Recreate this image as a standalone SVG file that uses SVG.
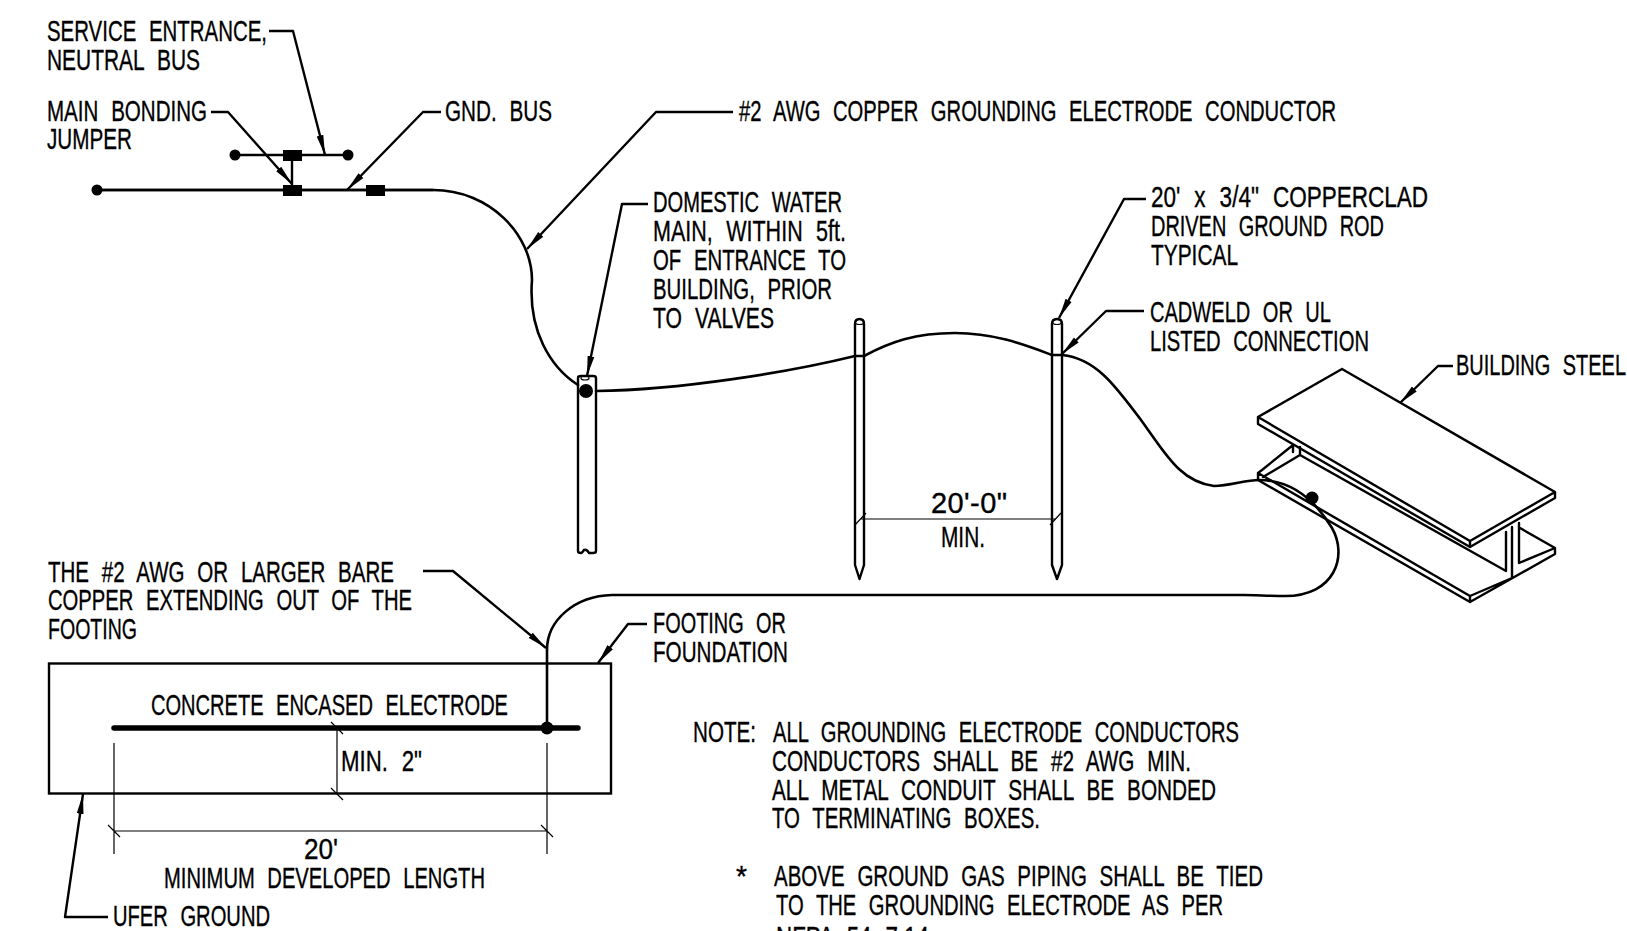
<svg xmlns="http://www.w3.org/2000/svg" width="1627" height="931" viewBox="0 0 1627 931">
<style>
text{font-family:"Liberation Sans Narrow","Liberation Sans",Arial,sans-serif;font-size:29px;fill:#000;stroke:#000;stroke-width:.35;word-spacing:10px}
.l{fill:none;stroke:#000;stroke-width:2.4;stroke-linecap:round;stroke-linejoin:round}
.w{fill:none;stroke:#000;stroke-width:2.6;stroke-linecap:round;stroke-linejoin:round}
.d{fill:none;stroke:#000;stroke-width:1.2;stroke-linecap:butt}
.s{fill:none;stroke:#000;stroke-width:2.4;stroke-linejoin:round;stroke-linecap:round}
.ld{fill:none;stroke:#000;stroke-width:2.4;stroke-linejoin:round;marker-end:url(#a)}
</style>
<defs>
<marker id="a" markerUnits="userSpaceOnUse" markerWidth="22" markerHeight="9" refX="20" refY="4" orient="auto"><path d="M0,0.6 L20,4 L0,7.4Z" fill="#000"/></marker>
</defs>
<g id="connectors">
<path class="ld" d="M269 31H293L325 155"/>
<path class="ld" d="M211 112H228L292 184"/>
<path class="ld" d="M441 112H423L347 190"/>
<path class="ld" d="M733 112H656L527 249"/>
<path class="ld" d="M648 204H622L587 376"/>
<path class="ld" d="M1146 199H1124L1059 318"/>
<path class="ld" d="M1144 311H1106L1062 354"/>
<path class="ld" d="M1453 366H1438L1400 403"/>
<path class="ld" d="M423 571H453L546 648"/>
<path class="ld" d="M647 624H628L598 663"/>
<path class="ld" d="M108 917H65L83 794"/>
<path class="w" d="M96 190H433C490 190 532 235 532 280C528 330 550 367 578 385"/>
<path class="w" d="M596 391C680 390 790 372 855 356"/>
<path class="w" d="M864 356C890 342 915 333 955 333C995 333 1025 345 1052 355"/>
<path class="w" d="M1062 355C1095 358 1115 385 1141 420C1165 453 1180 482 1214 486C1230 486 1245 480 1259 480"/>
<path class="w" d="M1259 480C1295 480 1318 505 1332 528C1348 556 1335 596 1285 596C1270 596 1255 595 1243 595H612C575 596 547 620 547 650V728"/>
</g>
<g id="main-bus">
<path class="l" d="M235 155H348M96 190H433M292 155V190"/>
<circle cx="235" cy="155" r="5.5"/><circle cx="348" cy="155" r="5.5"/><circle cx="97" cy="190" r="5.5"/>
<rect x="283" y="150" width="19" height="11"/><rect x="283" y="185" width="19" height="11"/><rect x="366" y="185" width="19" height="11"/>
</g>
<g id="water-main">
<path class="s" d="M578 378Q578 376 581 376H593Q596 376 596 378V551Q596 553 593 553H589Q587 549 584 550Q582 553 581 553Q578 553 578 551Z"/>
<ellipse class="d" cx="585" cy="378" rx="4" ry="2"/>
<circle cx="586" cy="391" r="7"/>
</g>
<g id="rod-1">
<path class="s" d="M855 324Q855 319 859.5 319Q864 319 864 324V565L859.5 579L855 565Z"/>
<ellipse class="d" cx="859.5" cy="322" rx="4.5" ry="2.5"/>
<path class="l" d="M855 356H864"/>
</g>
<g id="rod-2">
<path class="s" d="M1052 324Q1052 319 1057 319Q1062 319 1062 324V565L1057 579L1052 565Z"/>
<ellipse class="d" cx="1057" cy="322" rx="4.5" ry="2.5"/>
<path class="l" d="M1052 355H1062"/>
</g>
<g id="building-steel">
<path class="s" d="M1342 369L1555 492V498L1470 547V541L1258 417V424L1470 547M1342 369L1258 417M1470 541L1555 492"/>
<path class="s" d="M1258 473V480L1470 602V596L1258 473L1262 470L1293 445V452M1300 447V455L1506 571V532M1300 455L1263 477M1512 527V578L1470 596M1470 602L1555 554V548L1520 528M1519 523V563L1555 548"/>
<circle cx="1312" cy="498" r="6.5"/>
</g>
<g id="footing">
<rect x="49" y="663.5" width="562" height="130" fill="none" stroke="#000" stroke-width="2.4"/>
<path d="M114 728H578" stroke="#000" stroke-width="5.5" stroke-linecap="round"/>
<circle cx="547" cy="728" r="6.5"/>
<path class="d" d="M114 743V854M547 743V854M108 825L120 837M541 825L553 837M114 831H547M337 728V794M331 722L343 734M331 788L343 800"/>
<path class="d" d="M860 519H1055M855 525L866 513M1050 525L1061 513"/>
</g>
<g id="labels">
<text x="47" y="41" textLength="220" lengthAdjust="spacingAndGlyphs">SERVICE ENTRANCE,</text>
<text x="47" y="70" textLength="153" lengthAdjust="spacingAndGlyphs">NEUTRAL BUS</text>
<text x="47" y="121" textLength="160" lengthAdjust="spacingAndGlyphs">MAIN BONDING</text>
<text x="47" y="149" textLength="85" lengthAdjust="spacingAndGlyphs">JUMPER</text>
<text x="445" y="121" textLength="107" lengthAdjust="spacingAndGlyphs">GND. BUS</text>
<text x="739" y="121" textLength="597" lengthAdjust="spacingAndGlyphs">#2 AWG COPPER GROUNDING ELECTRODE CONDUCTOR</text>
<text x="653" y="212" textLength="189" lengthAdjust="spacingAndGlyphs">DOMESTIC WATER</text>
<text x="653" y="241" textLength="193" lengthAdjust="spacingAndGlyphs">MAIN, WITHIN 5ft.</text>
<text x="653" y="270" textLength="193" lengthAdjust="spacingAndGlyphs">OF ENTRANCE TO</text>
<text x="653" y="299" textLength="179" lengthAdjust="spacingAndGlyphs">BUILDING, PRIOR</text>
<text x="653" y="328" textLength="121" lengthAdjust="spacingAndGlyphs">TO VALVES</text>
<text x="1151" y="207" textLength="277" lengthAdjust="spacingAndGlyphs">20' x 3/4" COPPERCLAD</text>
<text x="1151" y="236" textLength="233" lengthAdjust="spacingAndGlyphs">DRIVEN GROUND ROD</text>
<text x="1151" y="265" textLength="87" lengthAdjust="spacingAndGlyphs">TYPICAL</text>
<text x="1150" y="322" textLength="181" lengthAdjust="spacingAndGlyphs">CADWELD OR UL</text>
<text x="1150" y="351" textLength="219" lengthAdjust="spacingAndGlyphs">LISTED CONNECTION</text>
<text x="1456" y="375" textLength="170" lengthAdjust="spacingAndGlyphs">BUILDING STEEL</text>
<text x="48" y="582" textLength="346" lengthAdjust="spacingAndGlyphs">THE #2 AWG OR LARGER BARE</text>
<text x="48" y="610" textLength="364" lengthAdjust="spacingAndGlyphs">COPPER EXTENDING OUT OF THE</text>
<text x="48" y="639" textLength="89" lengthAdjust="spacingAndGlyphs">FOOTING</text>
<text x="653" y="633" textLength="133" lengthAdjust="spacingAndGlyphs">FOOTING OR</text>
<text x="653" y="662" textLength="135" lengthAdjust="spacingAndGlyphs">FOUNDATION</text>
<text x="151" y="715" textLength="357" lengthAdjust="spacingAndGlyphs">CONCRETE ENCASED ELECTRODE</text>
<text x="341" y="771" textLength="81" lengthAdjust="spacingAndGlyphs">MIN. 2"</text>
<text x="304" y="859" textLength="34" lengthAdjust="spacingAndGlyphs">20'</text>
<text x="164" y="888" textLength="321" lengthAdjust="spacingAndGlyphs">MINIMUM DEVELOPED LENGTH</text>
<text x="113" y="926" textLength="157" lengthAdjust="spacingAndGlyphs">UFER GROUND</text>
<text x="931" y="513" textLength="76" lengthAdjust="spacing">20'-0"</text>
<text x="941" y="547" textLength="44" lengthAdjust="spacingAndGlyphs">MIN.</text>
<text x="693" y="742" textLength="63" lengthAdjust="spacingAndGlyphs">NOTE:</text>
<text x="773" y="742" textLength="466" lengthAdjust="spacingAndGlyphs">ALL GROUNDING ELECTRODE CONDUCTORS</text>
<text x="772" y="771" textLength="419" lengthAdjust="spacingAndGlyphs">CONDUCTORS SHALL BE #2 AWG MIN.</text>
<text x="772" y="800" textLength="444" lengthAdjust="spacingAndGlyphs">ALL METAL CONDUIT SHALL BE BONDED</text>
<text x="772" y="828" textLength="268" lengthAdjust="spacingAndGlyphs">TO TERMINATING BOXES.</text>
<text x="736" y="886" textLength="11" lengthAdjust="spacingAndGlyphs">*</text>
<text x="774" y="886" textLength="489" lengthAdjust="spacingAndGlyphs">ABOVE GROUND GAS PIPING SHALL BE TIED</text>
<text x="776" y="915" textLength="447" lengthAdjust="spacingAndGlyphs">TO THE GROUNDING ELECTRODE AS PER</text>
<text x="776" y="947" textLength="153" lengthAdjust="spacingAndGlyphs">NFPA 54 7.14</text>
</g>
</svg>
